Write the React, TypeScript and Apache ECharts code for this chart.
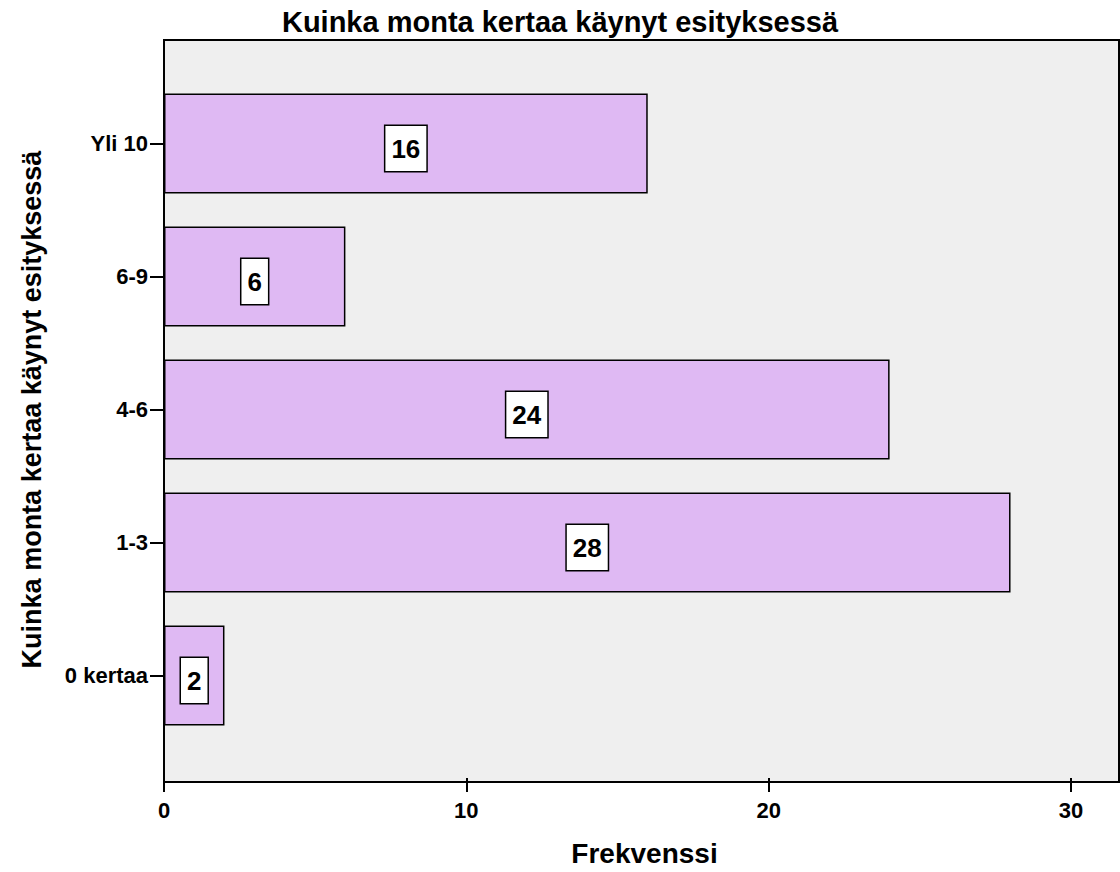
import React, { useEffect, useRef } from "react";
import * as echarts from "echarts";

const categories = ["0 kertaa", "1-3", "4-6", "6-9", "Yli 10"];
const frequencies = [2, 28, 24, 6, 16];
const xTicks = [0, 10, 20, 30];

const FONT = "'Liberation Sans', Arial, sans-serif";

export default function App() {
  const ref = useRef<HTMLDivElement>(null);
  useEffect(() => {
    if (!ref.current) return;
    const chart = echarts.init(ref.current, undefined, { renderer: "svg" });
    chart.setOption({
      animation: false,
      backgroundColor: "#ffffff",
      title: {
        text: "Kuinka monta kertaa käynyt esityksessä",
        left: "center",
        top: 2,
        textStyle: { fontFamily: FONT, fontSize: 29, fontWeight: "bold", color: "#000" },
      },
      graphic: [
        {
          type: "rect",
          z: -10,
          shape: { x: 164, y: 40, width: 955, height: 742 },
          style: { fill: "#efefef", stroke: "#000", lineWidth: 2 },
        },
      ],
      grid: { left: 164, right: 49, top: 77, bottom: 126, containLabel: false },
      xAxis: {
        type: "value",
        min: xTicks[0],
        max: xTicks[xTicks.length - 1],
        interval: 10,
        offset: 36,
        axisLine: { show: false },
        axisTick: { show: true, length: 14, lineStyle: { color: "#000", width: 2 } },
        splitLine: { show: false },
        axisLabel: {
          margin: 21,
          fontFamily: FONT,
          fontSize: 22,
          fontWeight: "bold",
          color: "#000",
        },
        name: "Frekvenssi",
        nameLocation: "middle",
        nameGap: 61,
        nameTextStyle: {
          fontFamily: FONT,
          fontSize: 28,
          fontWeight: "bold",
          color: "#000",
          padding: [0, 0, 0, 54],
        },
      },
      yAxis: {
        type: "category",
        data: categories,
        axisLine: { show: false },
        axisTick: { show: true, alignWithLabel: true, length: 14, lineStyle: { color: "#000", width: 2 } },
        splitLine: { show: false },
        axisLabel: {
          margin: 16,
          fontFamily: FONT,
          fontSize: 22,
          fontWeight: "bold",
          color: "#000",
        },
        name: "Kuinka monta kertaa käynyt esityksessä",
        nameLocation: "middle",
        nameRotate: 90,
        nameGap: 119,
        nameTextStyle: { fontFamily: FONT, fontSize: 27, fontWeight: "bold", color: "#000" },
      },
      series: [
        {
          type: "bar",
          data: frequencies,
          barWidth: 100,
          itemStyle: { color: "#dfb9f3", borderColor: "#000", borderWidth: 1.5 },
          label: {
            show: true,
            position: "inside",
            offset: [0, 5],
            fontFamily: FONT,
            fontSize: 26,
            lineHeight: 29,
            fontWeight: "bold",
            color: "#000",
            backgroundColor: "#ffffff",
            borderColor: "#000",
            borderWidth: 1.5,
            padding: [10, 6, 6, 6],
          },
        },
      ],
    });
    return () => chart.dispose();
  }, []);
  return <div ref={ref} style={{ width: 1120, height: 872, position: "absolute", left: 0, top: 0 }} />;
}
